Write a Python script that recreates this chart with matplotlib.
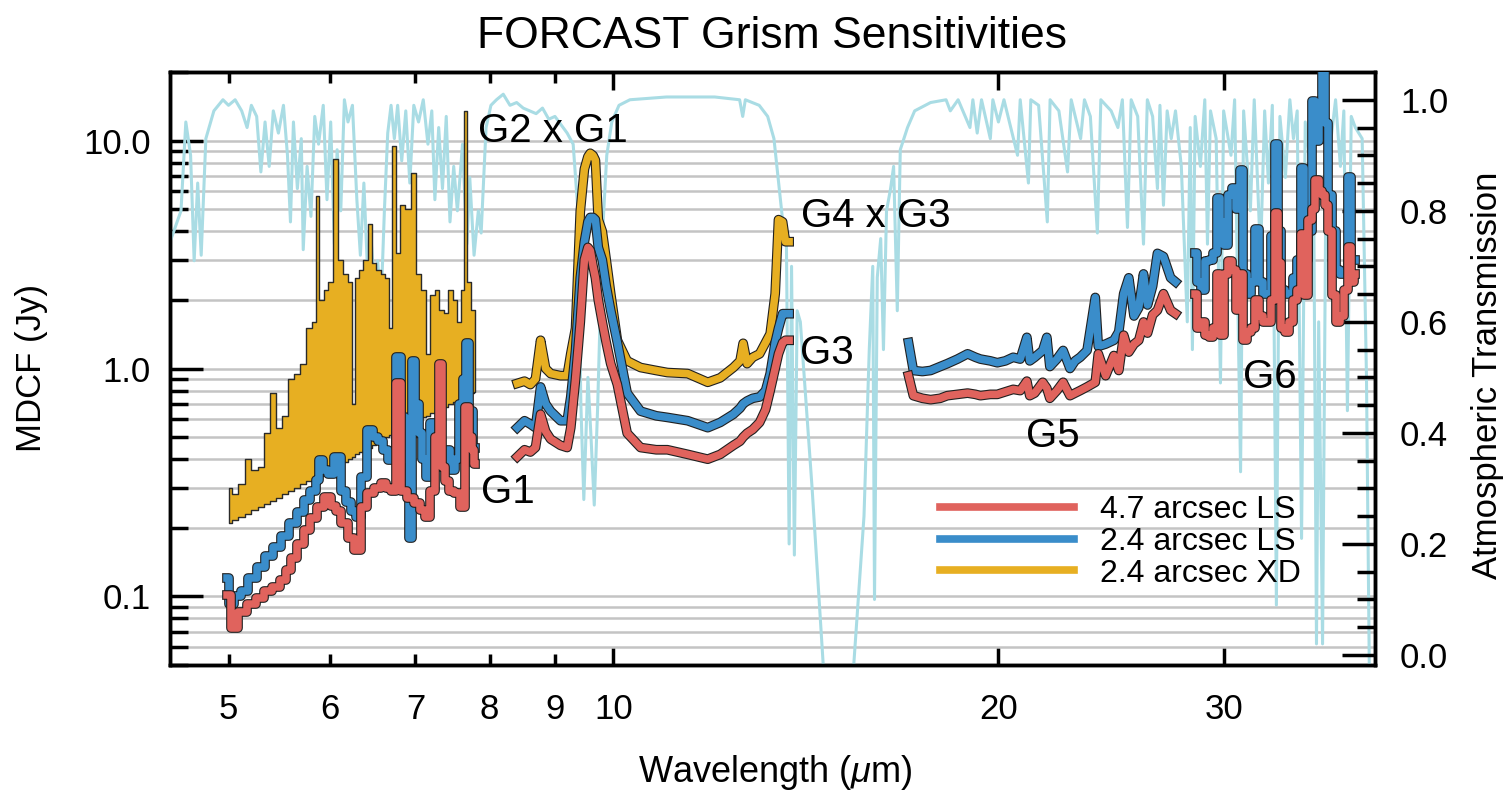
import numpy as np
import matplotlib
matplotlib.use('Agg')
import matplotlib.pyplot as plt
import matplotlib.patheffects as pe
from matplotlib.lines import Line2D
from matplotlib.ticker import FuncFormatter, NullFormatter, LogLocator

plt.rcParams['font.family'] = ['Liberation Sans', 'DejaVu Sans']
plt.rcParams['mathtext.fontset'] = 'custom'
plt.rcParams['mathtext.rm'] = 'Liberation Sans'
plt.rcParams['mathtext.it'] = 'Liberation Sans:italic'

# ---------------- data ----------------
# G1 (4.7 arcsec LS, red)
lam_g1_red = [4.99, 5.05, 5.13, 5.21, 5.29, 5.37, 5.45, 5.52, 5.57, 5.62,
              5.69, 5.76, 5.83, 5.90, 5.98, 6.04, 6.09, 6.16, 6.23, 6.31,
              6.38, 6.46, 6.54, 6.61, 6.67, 6.73, 6.78, 6.85, 6.94, 7.03,
              7.09, 7.15, 7.23, 7.28, 7.32, 7.36, 7.41, 7.46, 7.55, 7.63,
              7.69, 7.73, 7.77, 7.80]
g1_red = [0.101, 0.073, 0.085, 0.093, 0.098, 0.106, 0.11, 0.118, 0.13, 0.148,
          0.17, 0.195, 0.22, 0.246, 0.272, 0.25, 0.238, 0.21, 0.181, 0.159,
          0.246, 0.283, 0.30, 0.313, 0.30, 0.291, 0.86, 0.291, 0.27, 0.256,
          0.24, 0.222, 0.291, 0.50, 1.05, 0.368, 0.32, 0.291, 0.283, 0.246,
          0.675, 0.50, 0.437, 0.38]
# G1 (2.4 arcsec LS, blue)
lam_g1_blue = [4.99, 5.02, 5.08, 5.14, 5.22, 5.30, 5.38, 5.46, 5.54, 5.62,
               5.69, 5.76, 5.83, 5.87, 5.90, 5.96, 6.01, 6.09, 6.15, 6.21,
               6.26, 6.31, 6.38, 6.46, 6.52, 6.57, 6.63, 6.69, 6.74, 6.78,
               6.85, 6.90, 6.94, 6.98, 7.02, 7.06, 7.11, 7.15, 7.23, 7.28,
               7.32, 7.41, 7.49, 7.55, 7.59, 7.65, 7.69, 7.73, 7.80]
g1_blue = [0.121, 0.093, 0.10, 0.106, 0.12, 0.134, 0.15, 0.164, 0.185, 0.209,
           0.235, 0.264, 0.29, 0.323, 0.395, 0.36, 0.346, 0.407, 0.291, 0.26,
           0.238, 0.222, 0.333, 0.535, 0.50, 0.483, 0.44, 0.395, 0.42, 1.12,
           0.61, 0.40, 0.181, 1.08, 0.70, 0.519, 0.40, 0.333, 0.574, 0.46,
           0.395, 0.437, 0.357, 0.40, 0.70, 0.90, 1.29, 0.654, 0.45]
# G2 x G1 (2.4 arcsec XD, gold): upper profile and lower edge
lam_xd1 = [5.00, 5.06, 5.12, 5.18, 5.24, 5.30, 5.36, 5.42, 5.48, 5.54,
           5.60, 5.66, 5.72, 5.78, 5.84, 5.87, 5.91, 5.96, 6.01, 6.07,
           6.12, 6.17, 6.22, 6.26, 6.30, 6.35, 6.40, 6.45, 6.50, 6.55,
           6.60, 6.65, 6.69, 6.73, 6.78, 6.84, 6.91, 6.98, 7.04, 7.10,
           7.16, 7.22, 7.28, 7.34, 7.40, 7.46, 7.52, 7.58, 7.62, 7.66,
           7.71, 7.76, 7.80]
xd1_upper = [0.30, 0.28, 0.31, 0.40, 0.36, 0.37, 0.52, 0.78, 0.55, 0.62,
             0.90, 0.95, 1.05, 1.50, 1.60, 5.7, 2.0, 2.2, 2.4, 8.3,
             3.0, 2.6, 2.4, 0.70, 2.5, 2.7, 3.0, 4.3, 2.9, 2.7,
             2.6, 2.5, 1.5, 9.5, 3.2, 5.2, 5.0, 7.2, 2.6, 2.2,
             1.16, 2.1, 2.2, 1.8, 1.75, 2.2, 2.0, 1.6, 2.2, 13.5,
             2.4, 1.8, 1.8]
xd1_lower = [0.21, 0.217, 0.224, 0.231, 0.239, 0.247, 0.255, 0.263, 0.27, 0.28,
             0.29, 0.30, 0.31, 0.32, 0.33, 0.335, 0.34, 0.35, 0.36, 0.37,
             0.38, 0.39, 0.40, 0.41, 0.42, 0.43, 0.44, 0.45, 0.46, 0.47,
             0.48, 0.50, 0.51, 0.52, 0.53, 0.54, 0.56, 0.58, 0.59, 0.61,
             0.62, 0.64, 0.65, 0.67, 0.68, 0.70, 0.71, 0.73, 0.74, 0.75,
             0.76, 0.78, 0.79]
# G3 and G4 x G3
lam_g3 = [8.41, 8.52, 8.61, 8.69, 8.77, 8.85, 8.93, 9.09, 9.20, 9.26,
          9.34, 9.42, 9.49, 9.55, 9.59, 9.64, 9.68, 9.73, 9.80, 9.87,
          9.95, 10.07, 10.25, 10.50, 10.80, 11.02, 11.43, 11.85, 12.12, 12.41,
          12.56, 12.63, 12.72, 12.85, 13.01, 13.15, 13.26, 13.38, 13.46, 13.56,
          13.63, 13.72]
xd3 = [0.86, 0.88, 0.85, 0.90, 1.33, 1.0, 0.95, 0.93, 0.93, 1.16,
       1.5, 4.9, 7.5, 8.5, 8.8, 8.6, 8.2, 4.5, 4.0, 3.0,
       2.13, 1.33, 1.08, 1.01, 0.98, 0.96, 0.95, 0.87, 0.91, 1.01,
       1.08, 1.29, 1.05, 1.12, 1.16, 1.3, 1.42, 2.13, 4.5, 4.4,
       3.6, 3.6]
g3_blue = [0.55, 0.59, 0.57, 0.55, 0.83, 0.70, 0.65, 0.59, 0.59, 0.75,
           1.2, 2.5, 3.6, 4.4, 4.6, 4.6, 4.5, 3.4, 3.0, 2.3,
           1.8, 1.3, 0.78, 0.65, 0.62, 0.61, 0.59, 0.55, 0.58, 0.63,
           0.67, 0.70, 0.72, 0.74, 0.75, 0.80, 0.95, 1.3, 1.5, 1.74,
           1.74, 1.74]
g3_red = [0.41, 0.44, 0.43, 0.45, 0.63, 0.53, 0.49, 0.46, 0.45, 0.55,
          0.9, 1.6, 3.0, 3.4, 3.3, 2.8, 2.5, 2.0, 1.6, 1.3,
          1.05, 0.85, 0.52, 0.45, 0.44, 0.44, 0.42, 0.40, 0.42, 0.46,
          0.48, 0.50, 0.52, 0.54, 0.58, 0.66, 0.80, 1.0, 1.16, 1.3,
          1.33, 1.33]
# G5
lam_g5 = [17.01, 17.16, 17.44, 17.70, 18.01, 18.24, 18.58, 18.92, 19.19, 19.36,
          19.71, 19.96, 20.25, 20.54, 20.80, 21.05, 21.16, 21.35, 21.66, 21.82,
          21.94, 22.22, 22.47, 22.75, 22.96, 23.17, 23.46, 23.81, 23.94, 24.26,
          24.62, 24.84, 25.06, 25.29, 25.53, 25.75, 25.97, 26.16, 26.40, 26.63,
          26.92, 27.27, 27.51]
g5_blue = [1.30, 0.98, 0.97, 0.98, 1.02, 1.05, 1.10, 1.16, 1.12, 1.10,
           1.08, 1.06, 1.08, 1.12, 1.10, 1.37, 1.08, 1.12, 1.20, 1.37,
           1.02, 1.10, 1.20, 1.0, 1.08, 1.12, 1.20, 2.05, 1.25, 1.28,
           1.33, 1.45, 2.13, 2.5, 1.7, 1.85, 2.6, 1.9, 2.3, 3.2,
           3.1, 2.5, 2.4]
g5_red = [0.93, 0.76, 0.74, 0.73, 0.74, 0.76, 0.77, 0.78, 0.77, 0.76,
          0.77, 0.77, 0.79, 0.81, 0.80, 0.88, 0.76, 0.78, 0.87, 0.82,
          0.74, 0.80, 0.87, 0.76, 0.78, 0.80, 0.83, 0.87, 1.16, 0.93,
          1.14, 0.98, 1.40, 1.18, 1.28, 1.33, 1.60, 1.43, 1.72, 1.8,
          2.13, 1.8, 1.74]
# G6
lam_g6 = [28.51, 28.72, 28.93, 29.14, 29.35, 29.56, 29.72, 29.94, 30.15, 30.37,
          30.59, 30.81, 30.97, 31.20, 31.42, 31.65, 31.88, 32.11, 32.34, 32.58,
          32.81, 32.99, 33.17, 33.41, 33.65, 33.89, 34.14, 34.39, 34.57, 34.82,
          35.07, 35.26, 35.52, 35.71, 35.91, 36.10, 36.36, 36.62, 36.89, 37.15,
          37.42, 37.62, 37.83, 38.03]
g6_blue = [3.2, 2.4, 2.2, 2.97, 3.0, 3.2, 5.6, 4.4, 3.5, 5.8,
           6.2, 5.0, 7.4, 2.6, 2.13, 2.4, 4.1, 2.4, 2.13, 2.13,
           3.8, 9.7, 4.0, 2.2, 2.13, 2.13, 2.5, 3.0, 7.6, 3.0,
           4.0, 14.9, 10.0, 13.0, 21.0, 12.0, 5.8, 4.0, 2.7, 2.6,
           2.6, 6.9, 3.0, 3.0]
g6_red = [2.13, 1.51, 1.6, 1.4, 1.37, 1.5, 2.6, 1.4, 2.6, 2.97,
          2.7, 1.8, 2.6, 1.33, 1.45, 1.5, 1.99, 1.7, 1.6, 1.6,
          2.0, 4.8, 2.9, 1.5, 1.45, 1.6, 1.99, 2.2, 3.9, 2.1,
          4.5, 5.0, 6.7, 6.0, 5.8, 5.2, 4.0, 2.1, 1.6, 1.7,
          2.2, 3.4, 2.4, 2.6]

# Atmospheric transmission
trans_lam_a = [4.51, 4.59, 4.63, 4.67, 4.70, 4.73, 4.76, 4.80, 4.87, 4.95,
               5.00, 5.06, 5.12, 5.17, 5.21, 5.26, 5.30, 5.34, 5.38, 5.42,
               5.47, 5.52, 5.56, 5.59, 5.62, 5.66, 5.70, 5.72, 5.76, 5.80,
               5.84, 5.88, 5.93, 5.97, 6.01, 6.05, 6.08, 6.12, 6.16, 6.20,
               6.25, 6.30, 6.34, 6.38, 6.42, 6.46, 6.50, 6.54, 6.58, 6.62,
               6.66, 6.70, 6.74, 6.78, 6.83, 6.88, 6.93, 6.98, 7.04, 7.10,
               7.16, 7.21, 7.25, 7.30, 7.35, 7.40, 7.45, 7.50, 7.55, 7.62,
               7.68, 7.72, 7.78, 7.84, 7.88, 7.95]
trans_a = [0.75, 0.80, 0.96, 0.90, 0.71, 0.85, 0.72, 0.93, 0.98, 1.00,
           0.99, 1.00, 0.98, 0.95, 0.99, 0.97, 0.87, 0.96, 0.88, 0.98,
           0.94, 0.99, 0.90, 0.78, 0.96, 0.84, 0.93, 0.73, 0.88, 0.79,
           0.97, 0.92, 0.99, 0.82, 0.96, 0.74, 0.91, 0.80, 1.00, 0.96,
           0.99, 0.82, 0.72, 0.85, 0.70, 0.76, 0.66, 0.71, 0.63, 0.80,
           0.94, 0.99, 0.93, 0.99, 0.89, 0.98, 0.85, 0.99, 0.96, 1.00,
           0.92, 0.98, 0.82, 0.95, 0.84, 0.97, 0.78, 0.88, 0.80, 0.92,
           0.74, 0.86, 0.72, 0.80, 0.76, 0.95]
trans_lam_b = [8.02, 8.10, 8.20, 8.30, 8.40, 8.50, 8.60, 8.70, 8.80, 8.90,
               9.00, 9.10, 9.20, 9.30, 9.38, 9.43, 9.48, 9.55, 9.60, 9.66,
               9.72, 9.80, 9.88, 9.97, 10.1, 10.3, 11.0, 12.0, 12.55, 12.62,
               12.68, 13.0, 13.2, 13.35, 13.45, 13.55, 13.65, 13.72, 13.78, 13.85,
               13.92, 14.0]
trans_b = [0.99, 1.00, 1.01, 0.99, 0.995, 0.985, 0.98, 0.975, 0.985, 0.965,
           0.97, 0.955, 0.94, 0.92, 0.80, 0.45, 0.28, 0.50, 0.40, 0.27,
           0.45, 0.75, 0.90, 0.96, 0.99, 1.00, 1.005, 1.005, 1.0, 0.97,
           1.0, 0.99, 0.97, 0.93, 0.86, 0.79, 0.77, 0.20, 0.70, 0.18,
           0.62, 0.60]
trans_lam_c = [14.3, 14.6, 15.4, 15.7, 15.85, 15.95, 16.0, 16.08, 16.18, 16.26,
               16.35, 16.47, 16.56, 16.67, 16.76, 16.98, 17.2, 17.7]
trans_c = [0.30, -0.03, -0.03, 0.25, 0.55, 0.70, 0.10, 0.68, 0.75, 0.55,
           0.80, 0.84, 0.88, 0.62, 0.91, 0.95, 0.98, 0.995]
trans_lam_d = [18.2, 18.34, 18.6, 19.0, 19.1, 19.25, 19.4, 19.71, 19.8, 20.0,
               20.2, 20.7, 20.8, 21.11, 21.2, 21.5, 21.84, 21.95, 22.3, 22.65,
               22.8, 23.19, 23.35, 23.6, 23.9, 24.05, 24.5, 24.8, 25.0, 25.23,
               25.4, 25.7, 25.97, 26.15, 26.4, 26.63, 26.75, 26.92, 27.1, 27.3,
               27.51, 27.8, 28.1, 28.25, 28.36, 28.5, 28.77, 29.0, 29.14, 29.3,
               29.6, 29.83, 30.0, 30.4, 30.6, 30.93, 31.1, 31.48, 31.7, 32.06,
               32.3, 32.52, 32.75, 32.99, 33.2, 33.53, 33.8, 34.02, 34.25, 34.52,
               34.75, 35.0, 35.25, 35.46, 35.6, 35.85, 36.1, 36.36, 36.7, 37.02,
               37.25, 37.49, 37.75, 38.03, 38.5, 38.8, 39.0, 39.4]
trans_d = [1.0, 0.98, 1.0, 0.95, 1.0, 0.94, 1.0, 0.93, 1.0, 0.96,
           1.0, 0.90, 1.0, 0.85, 1.0, 0.99, 0.78, 1.0, 0.98, 0.87,
           1.0, 0.93, 1.0, 0.97, 0.76, 1.0, 0.98, 0.95, 1.0, 0.77,
           1.0, 0.97, 0.74, 1.0, 0.97, 0.84, 0.99, 0.81, 0.98, 0.93,
           0.98, 0.88, 0.60, 0.95, 0.55, 0.97, 0.88, 1.0, 0.74, 0.98,
           0.93, 0.49, 0.98, 0.90, 1.0, 0.33, 0.98, 0.80, 1.0, 0.72,
           0.98, 0.85, 0.99, 0.09, 0.97, 0.86, 1.0, 0.93, 0.98, 0.21,
           0.96, 0.90, 0.97, 0.02, 0.60, 0.02, 0.98, 0.92, 1.0, 0.88,
           0.98, 0.44, 0.97, 0.95, 0.93, 0.50, -0.03, -0.03]

x_major = [10, 20, 30]
x_minor = [5, 6, 7, 8, 9]
t_major = [0.0, 0.2, 0.4, 0.6, 0.8, 1.0]
t_minor = [0.05, 0.1, 0.15, 0.25, 0.3, 0.35, 0.45, 0.5, 0.55, 0.65, 0.7, 0.75, 0.85, 0.9, 0.95]
legend_labels = ['4.7 arcsec LS', '2.4 arcsec LS', '2.4 arcsec XD']

RED = '#E0635D'
BLUE = '#3A8DCA'
GOLD = '#E7AF22'
TRANS = '#A9DCE4'

trans_lam = trans_lam_a + trans_lam_b + trans_lam_c + trans_lam_d
trans = trans_a + trans_b + trans_c + trans_d

# ---------------- figure ----------------
W, H = 1506, 794
fig = plt.figure(figsize=(W / 100, H / 100), dpi=100)
L, R, T, B = 170, 1375, 72, 665
rect = [L / W, (H - B) / H, (R - L) / W, (B - T) / H]

ax_g = fig.add_axes(rect)
ax_g.set_xscale('log')
ax_g.set_yscale('log')
ax_g.set_xlim(4.5, 39.4)
ax_g.set_ylim(0.05, 20)
ax_g.yaxis.set_major_locator(LogLocator(base=10))
ax_g.yaxis.set_minor_locator(LogLocator(base=10, subs=np.arange(2, 10)))
ax_g.yaxis.set_major_formatter(FuncFormatter(lambda v, p: f'{v:.1f}'))
ax_g.yaxis.set_minor_formatter(NullFormatter())
ax_g.yaxis.grid(True, which='both', color='#c4c4c4', lw=1.8)
ax_g.xaxis.grid(False)
ax_g.set_axisbelow(True)
ax_g.set_xticks(x_major, labels=[str(v) for v in x_major])
ax_g.set_xticks(x_minor, labels=[str(v) for v in x_minor], minor=True)
ax_g.tick_params(axis='y', which='major', direction='in', length=24, width=2.5,
                 labelsize=25, pad=14, left=True, right=False)
ax_g.tick_params(axis='y', which='minor', direction='in', length=13, width=2.5,
                 left=True, right=False)
ax_g.tick_params(axis='x', which='major', direction='in', length=13, width=2.5,
                 labelsize=25, pad=20, top=True, bottom=True)
ax_g.tick_params(axis='x', which='minor', direction='in', length=8, width=2.5,
                 labelsize=25, pad=20, top=True, bottom=True)
for s in ax_g.spines.values():
    s.set_linewidth(2.5)

ax_t = ax_g.twinx()
ax_t.set_ylim(-0.018, 1.05)
ax_t.set_yticks(t_major, labels=[f'{v:.1f}' for v in t_major])
ax_t.set_yticks(t_minor, minor=True)
ax_t.tick_params(axis='y', which='major', direction='in', length=24, width=2.5,
                 labelsize=25, pad=18)
ax_t.tick_params(axis='y', which='minor', direction='in', length=13, width=2.5)
for s in ax_t.spines.values():
    s.set_linewidth(2.5)
ax_t.plot(trans_lam, trans, color=TRANS, lw=2.2, zorder=1)

ax_d = fig.add_axes(rect, sharex=ax_g, sharey=ax_g)
ax_d.patch.set_visible(False)
ax_d.axis('off')

stroke = [pe.Stroke(linewidth=7.0, foreground='#202020'), pe.Normal()]
LW = 5.4

# G1 region
ax_d.fill_between(lam_xd1, xd1_lower, xd1_upper, step='mid', facecolor=GOLD,
                  edgecolor='#2a2a2a', linewidth=1.0)
ax_d.plot(lam_g1_blue, g1_blue, color=BLUE, lw=LW, drawstyle='steps-mid',
          path_effects=stroke)
ax_d.plot(lam_g1_red, g1_red, color=RED, lw=LW, drawstyle='steps-mid',
          path_effects=stroke)
# G3 region
ax_d.plot(lam_g3, xd3, color=GOLD, lw=LW, path_effects=stroke)
ax_d.plot(lam_g3, g3_blue, color=BLUE, lw=LW, path_effects=stroke)
ax_d.plot(lam_g3, g3_red, color=RED, lw=LW, path_effects=stroke)
# G5
ax_d.plot(lam_g5, g5_blue, color=BLUE, lw=LW, path_effects=stroke)
ax_d.plot(lam_g5, g5_red, color=RED, lw=LW, path_effects=stroke)
# G6
ax_d.plot(lam_g6, g6_blue, color=BLUE, lw=LW, drawstyle='steps-mid',
          path_effects=stroke)
ax_d.plot(lam_g6, g6_red, color=RED, lw=LW, drawstyle='steps-mid',
          path_effects=stroke)

lab_kw = dict(fontsize=29, ha='left', va='center', color='black')
ax_d.text(7.84, 11.07, 'G2 x G1', **lab_kw)
ax_d.text(7.88, 0.286, 'G1', **lab_kw)
ax_d.text(14.01, 4.69, 'G4 x G3', **lab_kw)
ax_d.text(14.0, 1.175, 'G3', **lab_kw)
ax_d.text(21.0, 0.508, 'G5', **lab_kw)
ax_d.text(31.09, 0.92, 'G6', **lab_kw)

handles = [Line2D([], [], color=c, lw=5.5) for c in (RED, BLUE, GOLD)]
ax_d.legend(handles, legend_labels, loc='upper left', bbox_to_anchor=(0.639, 0.287),
            frameon=False, fontsize=23, handlelength=4.2, handletextpad=0.8,
            labelspacing=0.06, borderpad=0, borderaxespad=0)

fig.text(772 / W, 1 - 36 / H, 'FORCAST Grism Sensitivities', fontsize=32,
         ha='center', va='center')
fig.text(31 / W, 1 - 368 / H, 'MDCF (Jy)', fontsize=25, rotation=90,
         ha='center', va='center')
fig.text(1487 / W, 1 - 375 / H, 'Atmospheric Transmission', fontsize=25,
         rotation=90, ha='center', va='center')
fig.text(775 / W, 1 - 772 / H, r'Wavelength ($\mu$m)', fontsize=26,
         ha='center', va='center')

fig.savefig('out.png', dpi=100)
